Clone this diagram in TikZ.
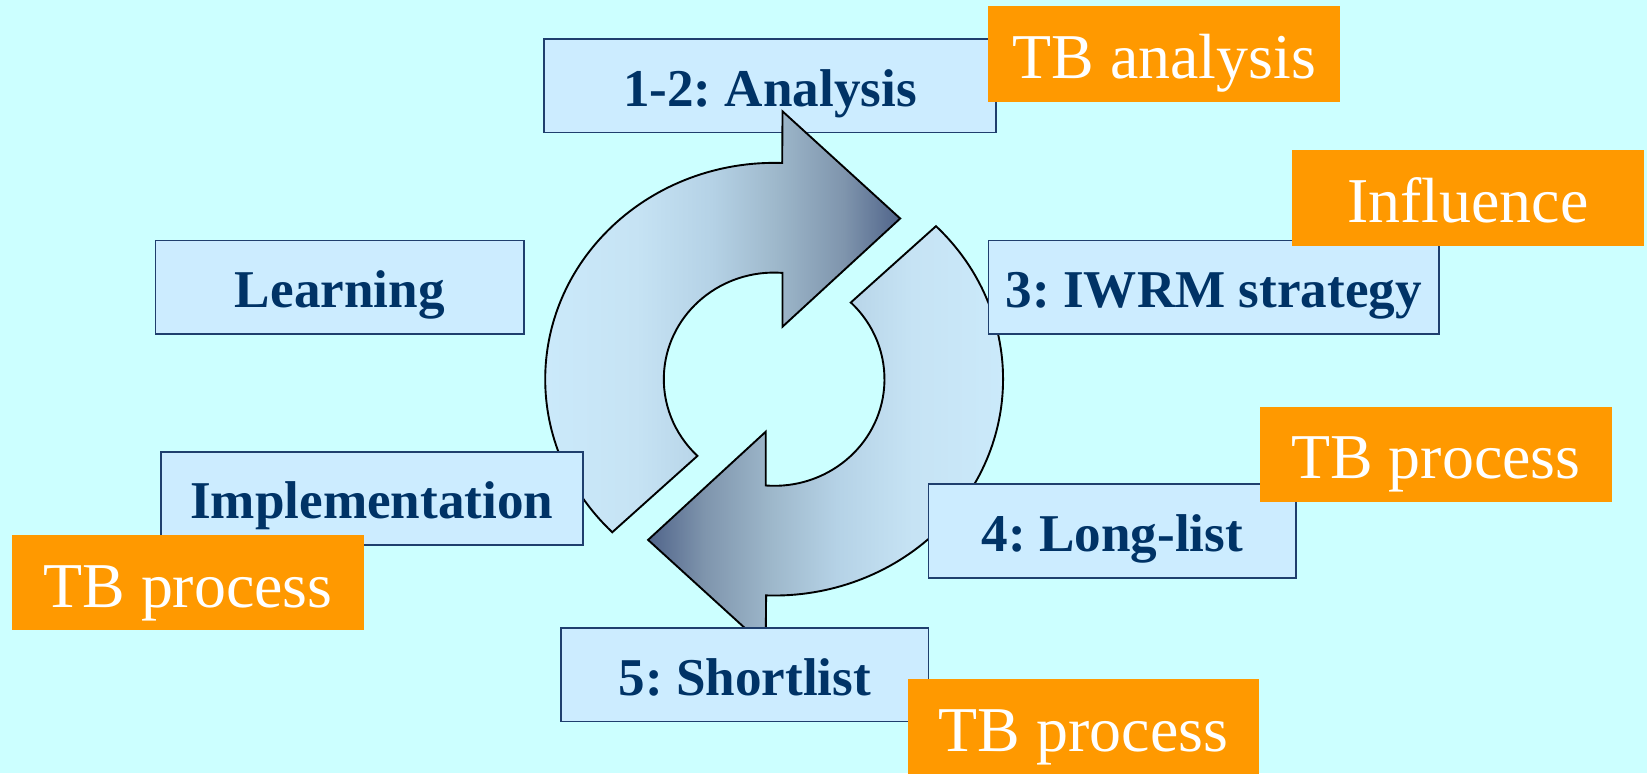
\documentclass[tikz,border=0pt]{standalone}
\usepackage{fontspec}
\setmainfont{Liberation Serif}
\frenchspacing
\definecolor{bg}{HTML}{CCFFFF}
\definecolor{boxfill}{HTML}{CCECFF}
\definecolor{boxline}{HTML}{1F3F6E}
\definecolor{navy}{HTML}{003366}
\definecolor{tagorange}{HTML}{FF9900}
\definecolor{shA}{HTML}{CCEBFC}
\definecolor{shB}{HTML}{C6E3F4}
\definecolor{shC}{HTML}{B5D2E6}
\definecolor{shD}{HTML}{9EB8CB}
\definecolor{shE}{HTML}{7F95AD}
\definecolor{shF}{HTML}{50648A}
\pgfdeclarehorizontalshading{arrowright}{100bp}{%
  color(0bp)=(shA); color(25bp)=(shA);
  color(40bp)=(shB); color(50bp)=(shC);
  color(58.5bp)=(shD); color(67.5bp)=(shE);
  color(75bp)=(shF); color(100bp)=(shF)}
\pgfdeclarehorizontalshading{arrowleft}{100bp}{%
  color(0bp)=(shF); color(25bp)=(shF);
  color(32.5bp)=(shE); color(41.5bp)=(shD);
  color(50bp)=(shC); color(60bp)=(shB);
  color(75bp)=(shA); color(100bp)=(shA)}
\begin{document}
\begin{tikzpicture}[x=0.5pt,y=0.5pt,
  bluebox/.style={draw=boxline, line width=0.8pt, fill=boxfill, text=navy,
    font=\fontsize{25.3}{30}\selectfont\bfseries\frenchspacing, inner sep=0pt,
    text height=32pt, text depth=12.5pt, minimum height=44.5pt},
  tagbox/.style={fill=tagorange, text=white,
    font=\fontsize{30.4}{36}\selectfont, inner sep=0pt,
    text height=34.5pt, text depth=11pt, minimum width=167.5pt, minimum height=45.5pt},
  cyclearrow/.style={draw=black, line width=0.9pt, line join=miter}]

\fill[bg] (0,0) rectangle (1568,-736);
\useasboundingbox (0,0) rectangle (1568,-736);

% box under the top arrow head
\node[bluebox, minimum width=215pt] (ana) at (733,-81.5) {1-2: Analysis};

% top arrow (clockwise, head to the right)
\path[cyclearrow, shading=arrowright]
  (582.9,-506.7) arc[start angle=225, end angle=88, x radius=218, y radius=206]
  -- (745,-106) -- (857,-208) -- (745,-311) -- (745,-259.8)
  arc[start angle=85.6, end angle=226, x radius=105, y radius=101.5] -- cycle;

% bottom arrow (clockwise, head to the left)
\path[cyclearrow, shading=arrowleft]
  (891.1,-215.3) arc[start angle=45, end angle=-92, x radius=218, y radius=206]
  -- (729,-616) -- (617,-514) -- (729,-411) -- (729,-462.2)
  arc[start angle=-94.4, end angle=46, x radius=105, y radius=101.5] -- cycle;

% step boxes
\node[bluebox, minimum width=214.5pt] (iwrm) at (1155.5,-273.5) {3: IWRM strategy};
\node[bluebox, minimum width=175.5pt] (learn) at (323.5,-273.5) {Learning};
\node[bluebox, minimum width=201pt] (impl) at (354,-474.5) {Implementation};
\node[bluebox, minimum width=175pt] (long) at (1059,-505.5) {4: Long-list};
\node[bluebox, minimum width=175pt] (short) at (709,-642.5) {5: Shortlist};

% orange tags
\node[tagbox] (tba) at (1108.5,-51.5) {TB analysis};
\node[tagbox] (infl) at (1397.5,-188.5) {Influence};
\node[tagbox] (tbp1) at (1367,-432.5) {TB process};
\node[tagbox] (tbp2) at (179,-554.5) {TB process};
\node[tagbox] (tbp3) at (1031.5,-691.5) {TB process};
\end{tikzpicture}
\end{document}
